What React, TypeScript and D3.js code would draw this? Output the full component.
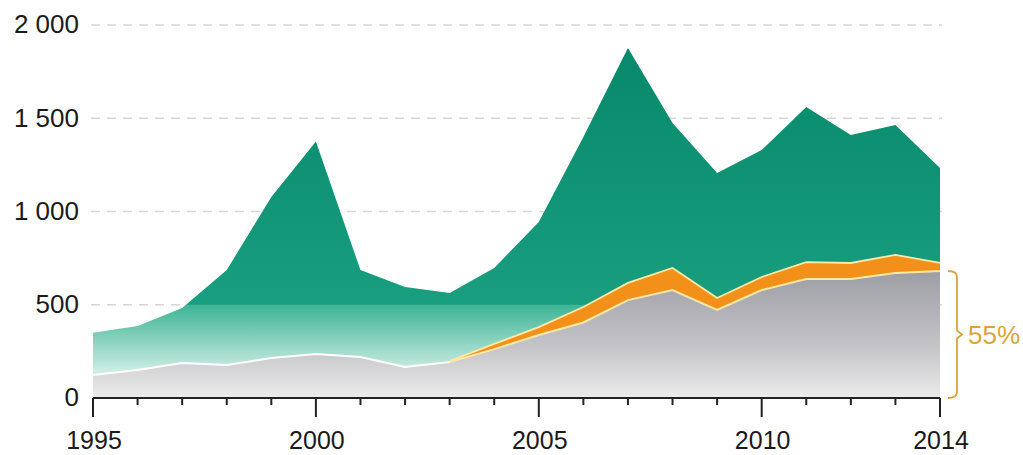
import { useEffect, useRef } from 'react';
import * as d3 from 'd3';

const years = d3.range(1995, 2015);
// bottom grey layer
const greyValues = [123, 150, 188, 177, 214, 236, 220, 166, 193, 262, 338, 405, 525, 579, 472, 579, 638, 638, 670, 681];
// orange layer (thickness)
const orangeValues = [0, 0, 0, 0, 0, 0, 0, 0, 5, 28, 42, 83, 92, 118, 64, 70, 91, 86, 97, 43];
// overall total (top of green)
const totalValues = [350, 386, 483, 686, 1078, 1375, 686, 595, 563, 697, 944, 1400, 1877, 1475, 1206, 1330, 1560, 1410, 1464, 1233];
const yTicks = [0, 500, 1000, 1500, 2000];
const xLabels = [1995, 2000, 2005, 2010, 2014];
const shareLabel = '55%';

const W = 1023;
const H = 455;

export default function App() {
  const ref = useRef<SVGSVGElement>(null);

  useEffect(() => {
    if (!ref.current) return;
    const svg = d3.select(ref.current);
    svg.selectAll('*').remove();

    const x = d3.scaleLinear().domain([1995, 2014]).range([93, 940]);
    const y = d3.scaleLinear().domain([0, 2000]).range([398, 25]);

    const rows = years.map((yr, i) => ({
      year: yr,
      grey: greyValues[i],
      orange: orangeValues[i],
      green: totalValues[i] - greyValues[i] - orangeValues[i],
    }));
    const stack = d3.stack<any>().keys(['grey', 'orange', 'green']);
    const series = stack(rows);

    const defs = svg.append('defs');
    const gGreen = defs.append('linearGradient')
      .attr('id', 'gGreen')
      .attr('gradientUnits', 'userSpaceOnUse')
      .attr('x1', 0).attr('x2', 0)
      .attr('y1', y(1900)).attr('y2', y(0));
    const f500 = (y(500) - y(1900)) / (y(0) - y(1900));
    const f150 = (y(150) - y(1900)) / (y(0) - y(1900));
    [
      [0, '#07886a'],
      [f500 - 0.001, '#199e80'],
      [f500, '#3db495'],
      [f150, '#c9ece2'],
      [1, '#eef9f6'],
    ].forEach(([o, c]) => gGreen.append('stop').attr('offset', o as number).attr('stop-color', c as string));

    const gGrey = defs.append('linearGradient')
      .attr('id', 'gGrey')
      .attr('gradientUnits', 'userSpaceOnUse')
      .attr('x1', 0).attr('x2', 0)
      .attr('y1', y(700)).attr('y2', y(0));
    gGrey.append('stop').attr('offset', 0).attr('stop-color', '#9b9ba3');
    gGrey.append('stop').attr('offset', 0.6).attr('stop-color', '#c4c4c8');
    gGrey.append('stop').attr('offset', 1).attr('stop-color', '#ebebeb');

    // gridlines
    svg.append('g')
      .selectAll('line')
      .data(yTicks.filter(d => d > 0))
      .join('line')
      .attr('x1', 91).attr('x2', 942)
      .attr('y1', d => y(d)).attr('y2', d => y(d))
      .attr('stroke', '#d6d6d6')
      .attr('stroke-width', 1.5)
      .attr('stroke-dasharray', '9,7');

    const area = d3.area<any>()
      .x((d: any) => x(d.data.year))
      .y0((d: any) => y(d[0]))
      .y1((d: any) => y(d[1]));

    const fills = ['url(#gGrey)', '#f39019', 'url(#gGreen)'];
    // green first, then orange, then grey so edges overlay properly
    [2, 1, 0].forEach(k => {
      svg.append('path')
        .datum(series[k])
        .attr('fill', fills[k])
        .attr('d', area as any);
    });

    const line = d3.line<any>()
      .x((d: any) => x(d.data.year))
      .y((d: any) => y(d[1]));

    // white edge on grey (early years)
    svg.append('path')
      .datum(series[0].slice(0, 9))
      .attr('fill', 'none')
      .attr('stroke', '#ffffff')
      .attr('stroke-width', 2)
      .attr('d', line as any);
    // cream edges where orange exists
    svg.append('path')
      .datum(series[0].slice(8))
      .attr('fill', 'none')
      .attr('stroke', '#fde8a6')
      .attr('stroke-width', 2)
      .attr('d', line as any);
    svg.append('path')
      .datum(series[1].slice(8))
      .attr('fill', 'none')
      .attr('stroke', '#fde8a6')
      .attr('stroke-width', 1.8)
      .attr('d', line as any);

    // axis
    const axis = svg.append('g');
    axis.append('line')
      .attr('x1', x(1995)).attr('x2', x(2014))
      .attr('y1', y(0)).attr('y2', y(0))
      .attr('stroke', '#222').attr('stroke-width', 2);
    axis.selectAll('line.tick')
      .data(years)
      .join('line')
      .attr('class', 'tick')
      .attr('x1', d => x(d)).attr('x2', d => x(d))
      .attr('y1', y(0))
      .attr('y2', d => y(0) + (xLabels.includes(d) ? 19 : 7))
      .attr('stroke', '#222').attr('stroke-width', 2);

    const font = '"Liberation Sans", Arial, sans-serif';
    svg.append('g')
      .selectAll('text')
      .data(xLabels)
      .join('text')
      .attr('x', d => x(d) + 1)
      .attr('y', 449)
      .attr('text-anchor', 'middle')
      .attr('font-family', font)
      .attr('font-size', 25)
      .attr('fill', '#1a1a1a')
      .text(d => String(d));

    svg.append('g')
      .selectAll('text')
      .data(yTicks)
      .join('text')
      .attr('x', 79)
      .attr('y', d => y(d) - 1)
      .attr('dy', '0.36em')
      .attr('text-anchor', 'end')
      .attr('font-family', font)
      .attr('font-size', 26)
      .attr('fill', '#1a1a1a')
      .text(d => d3.format(',')(d).replace(',', ' '));

    // bracket for share
    const top = y(greyValues[greyValues.length - 1]);
    const bot = y(0);
    const mid = (top + bot) / 2;
    const bx = 957;
    const bracketColor = '#dba43b';
    svg.append('path')
      .attr('d', `M${bx - 9},${top} Q${bx},${top} ${bx},${top + 6} L${bx},${mid - 4} L${bx + 5},${mid} L${bx},${mid + 4} L${bx},${bot - 6} Q${bx},${bot} ${bx - 9},${bot}`)
      .attr('fill', 'none')
      .attr('stroke', bracketColor)
      .attr('stroke-width', 1.8);
    svg.append('text')
      .attr('x', 968)
      .attr('y', mid)
      .attr('dy', '0.36em')
      .attr('font-family', font)
      .attr('font-size', 26)
      .attr('fill', bracketColor)
      .text(shareLabel);
  }, []);

  return (
    <svg
      ref={ref}
      width={W}
      height={H}
      style={{ position: 'absolute', left: 0, top: 0, background: '#fff' }}
    />
  );
}
